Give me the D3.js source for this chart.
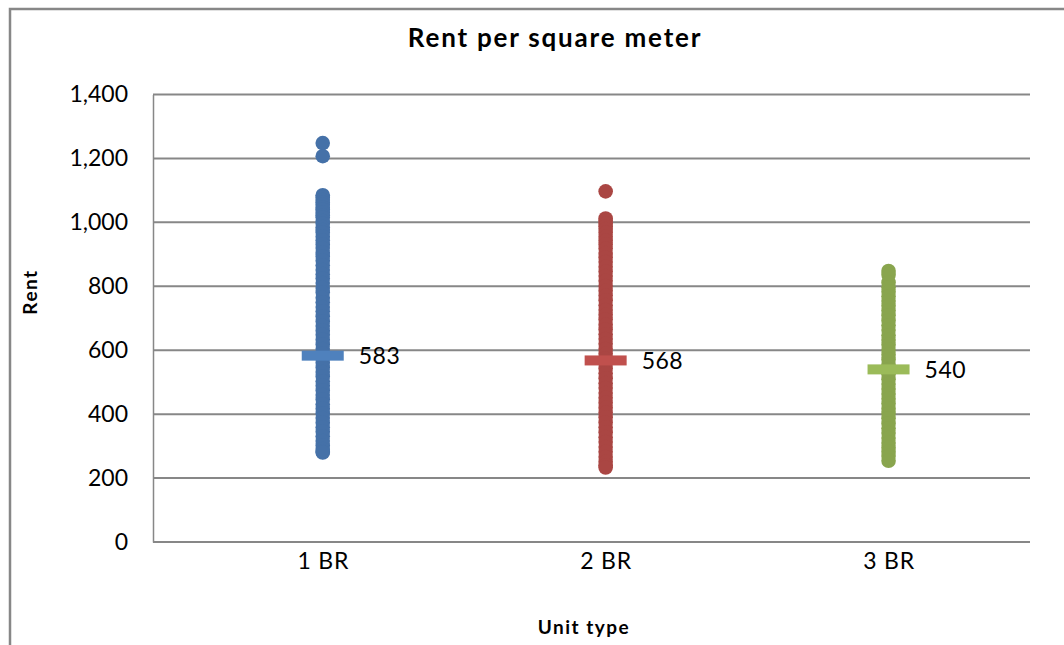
<!DOCTYPE html>
<html>
<head>
<meta charset="utf-8">
<script src="https://cdn.jsdelivr.net/npm/d3@7"></script>
<style>
  html, body { margin: 0; padding: 0; background: #fff; }
  svg { display: block; }
  text { font-family: Lato, "Open Sans", sans-serif; fill: #000; }
</style>
</head>
<body>
<svg id="chart" width="1064" height="645"></svg>
<script>
// Unit types on the category axis
const categories = ["1 BR", "2 BR", "3 BR"];

// Individual rent per square meter observations for each unit type
const rent1BR = [1248, 1207, 1085, 1078, 1070, 1062, 1055, 1046, 1040, 1031, 1022, 1015, 1004, 996, 985, 976,
  968, 955, 944, 931, 920, 905, 893, 880, 866, 851, 838, 824, 810, 795, 781, 764, 750, 735, 722, 706, 690,
  676, 661, 648, 633, 618, 604, 590, 575, 561, 546, 532, 518, 503, 489, 474, 460, 446, 431, 417, 402, 388,
  373, 359, 345, 331, 316, 302, 291, 282, 280];
const rent2BR = [1097, 1012, 1005, 996, 988, 979, 968, 955, 943, 931, 918, 904, 890, 876, 861, 846, 832, 817,
  801, 786, 771, 756, 741, 726, 711, 696, 680, 665, 650, 635, 620, 604, 589, 574, 559, 543, 528, 512, 497,
  482, 466, 451, 436, 420, 405, 390, 374, 359, 343, 328, 313, 297, 282, 266, 251, 240, 233];
const rent3BR = [848, 836, 812, 797, 783, 769, 754, 739, 724, 709, 693, 678, 663, 647, 632, 617, 601, 586, 571,
  555, 540, 525, 509, 494, 479, 463, 448, 433, 417, 402, 387, 371, 356, 341, 325, 310, 295, 282, 269, 254];

// Average rent per unit type
const means = [583, 568, 540];

// Value axis ticks
const yTicks = [0, 200, 400, 600, 800, 1000, 1200, 1400];

const dotColors = ["#4571a8", "#aa4643", "#89a54e"];
const meanColors = ["#4f81bd", "#c0504d", "#9bbb59"];
const series = [rent1BR, rent2BR, rent3BR];

const svg = d3.select("#chart");

// Outer chart frame (only top and left edges fall inside the view)
svg.append("rect")
  .attr("x", 10).attr("y", 9)
  .attr("width", 1100).attr("height", 700)
  .attr("fill", "none").attr("stroke", "#878787").attr("stroke-width", 2.5);

const plot = { left: 153, right: 1030, top: 94.5, bottom: 542 };

const y = d3.scaleLinear().domain([0, 1400]).range([plot.bottom, plot.top]);
// category positions on a numeric axis 1..3
const x = d3.scaleLinear().domain([0.4, 3.5]).range([plot.left, plot.right]);

// Gridlines
svg.append("g")
  .selectAll("line")
  .data(yTicks)
  .join("line")
  .attr("x1", plot.left).attr("x2", plot.right)
  .attr("y1", d => y(d)).attr("y2", d => y(d))
  .attr("stroke", "#878787").attr("stroke-width", 2);

// Y axis
const yAxis = d3.axisLeft(y)
  .tickValues(yTicks)
  .tickFormat(d3.format(","))
  .tickSize(0)
  .tickPadding(25);
const gy = svg.append("g")
  .attr("transform", `translate(${plot.left},0)`)
  .call(yAxis);
gy.select(".domain").attr("stroke", "#878787").attr("stroke-width", 1.5);
gy.selectAll("text").attr("font-size", 23).style("font-family", "Lato, sans-serif").attr("fill", "#000");

// X axis labels
const xAxis = d3.axisBottom(x)
  .tickValues([1, 2, 3])
  .tickFormat((d, i) => categories[i])
  .tickSize(0)
  .tickPadding(11);
const gx = svg.append("g")
  .attr("transform", `translate(0,${plot.bottom})`)
  .call(xAxis);
gx.select(".domain").remove();
gx.selectAll("text").attr("font-size", 23).attr("letter-spacing", 0.8)
  .style("font-family", "Lato, sans-serif").attr("fill", "#000");

// Observation dots
series.forEach((vals, i) => {
  svg.append("g")
    .selectAll("circle")
    .data(vals)
    .join("circle")
    .attr("cx", x(i + 1))
    .attr("cy", d => y(d))
    .attr("r", 7.3)
    .attr("fill", dotColors[i]);
});

// Mean markers and labels
means.forEach((m, i) => {
  svg.append("rect")
    .attr("x", x(i + 1) - 21)
    .attr("y", y(m) - 5)
    .attr("width", 42)
    .attr("height", 10)
    .attr("fill", meanColors[i]);
  svg.append("text")
    .attr("x", x(i + 1) + 36)
    .attr("y", y(m))
    .attr("dy", "0.36em")
    .attr("font-size", 23)
    .attr("letter-spacing", 0.5)
    .text(m);
});

// Title
svg.append("text")
  .attr("x", 555).attr("y", 38)
  .attr("dy", "0.35em")
  .attr("text-anchor", "middle")
  .attr("font-size", 26)
  .attr("letter-spacing", 1.8)
  .attr("font-weight", "bold")
  .text("Rent per square meter");

// Axis titles
svg.append("text")
  .attr("transform", "translate(30,292) rotate(-90)")
  .attr("dy", "0.35em")
  .attr("text-anchor", "middle")
  .attr("font-size", 19)
  .attr("letter-spacing", 1.5)
  .attr("font-weight", "bold")
  .text("Rent");

svg.append("text")
  .attr("x", 584).attr("y", 627)
  .attr("dy", "0.35em")
  .attr("text-anchor", "middle")
  .attr("font-size", 19)
  .attr("letter-spacing", 1.5)
  .attr("font-weight", "bold")
  .text("Unit type");
</script>
</body>
</html>
